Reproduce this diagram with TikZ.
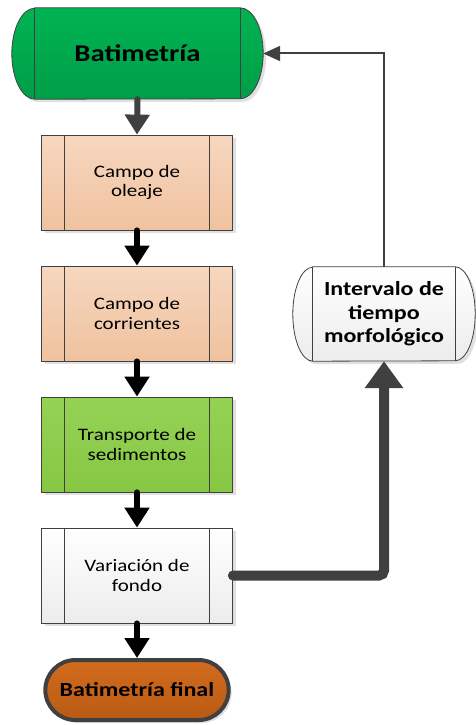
\documentclass[tikz,border=0pt]{standalone}
\usepackage{fontspec}
\setmainfont{Carlito}[FakeStretch=1.2]
\usetikzlibrary{arrows.meta,shapes.misc,shadows,backgrounds}

\definecolor{gris}{HTML}{404040}
\definecolor{verdeA}{HTML}{00B352}
\definecolor{verdeB}{HTML}{009E47}
\definecolor{arenaA}{HTML}{F6D7BF}
\definecolor{arenaB}{HTML}{F0C29F}
\definecolor{pastoA}{HTML}{95D255}
\definecolor{pastoB}{HTML}{86C744}
\definecolor{grisA}{HTML}{FFFFFF}
\definecolor{grisB}{HTML}{ECECEC}
\definecolor{cobreA}{HTML}{D26C1E}
\definecolor{cobreB}{HTML}{B95A13}

\begin{document}
\begin{tikzpicture}[x=1pt,y=-1pt,
	sombra/.style={drop shadow={shadow xshift=3pt,shadow yshift=-3pt,fill=black!12,opacity=1}},
	borde/.style={draw=gris,line width=0.8pt},
	proceso/.style={rectangle,borde,sombra,minimum width=191pt,minimum height=95pt,
		align=center,font=\fontsize{17.5}{19.5}\selectfont,
		path picture={\draw[gris,line width=0.8pt]
			([xshift=23pt]path picture bounding box.north west) -- ([xshift=23pt]path picture bounding box.south west)
			([xshift=-23pt]path picture bounding box.north east) -- ([xshift=-23pt]path picture bounding box.south east);}},
	flecha/.style={line width=6pt,line cap=round,-{Triangle[width=24pt,length=20pt]}}]
	\useasboundingbox (0,0) rectangle (475,725);

	% nodos
	\node (bat) at (137.5,53.5) [minimum width=251pt,minimum height=91pt,
		font=\bfseries\fontsize{24}{28}\selectfont] {Batimetría};
	\node (ole) at (137,182.5) [proceso,top color=arenaA,bottom color=arenaB] {Campo de\\oleaje};
	\node (cor) at (137,313.5) [proceso,top color=arenaA,bottom color=arenaB] {Campo de\\corrientes};
	\node (tra) at (137,444.5) [proceso,top color=pastoA,bottom color=pastoB] {Transporte de\\sedimentos};
	\node (var) at (137,575.5) [proceso,top color=grisA,bottom color=grisB] {Variación de\\fondo};
	\node (fin) at (137,690) [rounded rectangle,draw=gris,line width=4pt,sombra,
		top color=cobreA,bottom color=cobreB,minimum width=190pt,minimum height=60pt,
		font=\bfseries\fontsize{20}{24}\selectfont] {Batimetría final};
	\node (int) at (384,314) [minimum width=182pt,minimum height=94pt,align=center,
		font=\bfseries\fontsize{20}{23.5}\selectfont] {Intervalo de\\tiempo\\morfológico};

	% formas de tambor
	\begin{scope}[on background layer]
		\path[borde,sombra,top color=verdeA,bottom color=verdeB]
			([xshift=23pt]bat.north west) -- ([xshift=-23pt]bat.north east)
			arc[start angle=90,end angle=-90,x radius=23pt,y radius=45.5pt]
			-- ([xshift=23pt]bat.south west)
			arc[start angle=270,end angle=90,x radius=23pt,y radius=45.5pt] -- cycle;
		\draw[borde] ([xshift=23pt]bat.north west) -- ([xshift=23pt]bat.south west)
			([xshift=-23pt]bat.north east) -- ([xshift=-23pt]bat.south east);
		\path[borde,sombra,top color=grisA,bottom color=grisB]
			([xshift=20pt]int.north west) -- ([xshift=-20pt]int.north east)
			arc[start angle=90,end angle=-90,x radius=20pt,y radius=47pt]
			-- ([xshift=20pt]int.south west)
			arc[start angle=270,end angle=90,x radius=20pt,y radius=47pt] -- cycle;
		\draw[borde] ([xshift=20pt]int.north west) -- ([xshift=20pt]int.south west)
			([xshift=-20pt]int.north east) -- ([xshift=-20pt]int.south east);
	\end{scope}

	% flechas
	\draw[flecha,gris] (bat.south) -- (ole.north);
	\draw[flecha] (ole.south) -- (cor.north);
	\draw[flecha] (cor.south) -- (tra.north);
	\draw[flecha] (tra.south) -- (var.north);
	\draw[flecha] (var.south) -- (fin.north);
	\draw[gris,line width=10pt,line cap=round,rounded corners=5pt,
		-{Triangle[width=37pt,length=27pt]}] (var.east) -| (int.south);
	\draw[gris,line width=2pt,-{Triangle[width=15pt,length=17pt]}] (int.north) |- (bat.east);
\end{tikzpicture}
\end{document}
